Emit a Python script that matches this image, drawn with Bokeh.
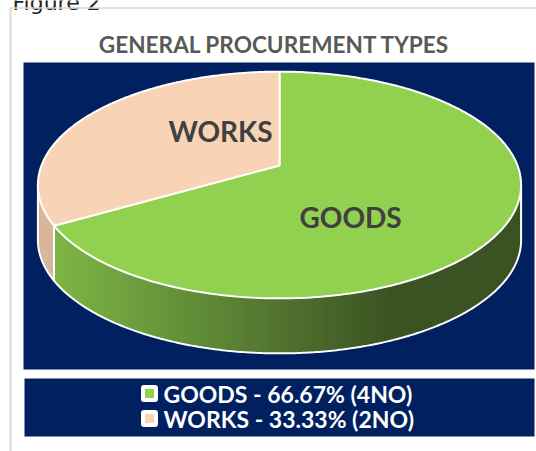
import numpy as np
from bokeh.plotting import figure
from bokeh.models import Range1d
from bokeh.core.properties import value
from bokeh.embed import file_html
from bokeh.resources import INLINE

# ---------------- data ----------------
categories = ["GOODS", "WORKS"]
counts = [4, 2]
top_colors = ["#92D050", "#F8D3B5"]
side_colors = [("#7DB545", "#3B5323"), ("#D9B59B", "#D9B59B")]
title_text = "GENERAL PROCUREMENT TYPES"
figure_caption = "Figure 2"

# ---------------- layout ----------------
W, H = 536, 451
CX, CY = 279, 165          # pie vertex on screen
R, A, K = 238, 110, 0.172  # horizontal radius, vertical radius, perspective
DEPTH = 55
NAVY = "#002060"
FONT = value("Lato")
label_place = {"GOODS": (147.7, 0.517), "WORKS": (322.0, 0.426)}


def proj(theta_deg, r=1.0):
    t = np.radians(theta_deg)
    u = r * np.sin(t)
    v = r * np.cos(t)
    s = 1 + K * v
    return CX + R * u / s, CY - A * v / s


def mix(c1, c2, t):
    a = np.array([int(c1[i:i + 2], 16) for i in (1, 3, 5)], dtype=float)
    b = np.array([int(c2[i:i + 2], 16) for i in (1, 3, 5)], dtype=float)
    c = a + (b - a) * t
    return "#%02x%02x%02x" % tuple(int(round(x)) for x in c)


p = figure(width=W, height=H, x_range=Range1d(0, W), y_range=Range1d(H, 0),
           x_axis_type=None, y_axis_type=None, toolbar_location=None,
           output_backend="svg", min_border=0)
p.grid.visible = False
p.outline_line_color = None
p.background_fill_color = "white"
p.border_fill_color = "white"

# frame + caption
p.text(x=[12], y=[2], text=[figure_caption], text_font=value("DejaVu Sans"),
       text_font_size="22px", text_color="#222222", text_baseline="alphabetic")
p.line(x=[10, W], y=[7.5, 7.5], line_color="#DADADA", line_width=1.5)
p.line(x=[10, 10], y=[7, H], line_color="#D9D9D9", line_width=2)

# title
p.text(x=[274], y=[44], text=[title_text], text_font=FONT, text_font_style="bold",
       text_font_size="22.6px", text_color="#595959", text_align="center",
       text_baseline="middle")

# plot / legend backgrounds
p.quad(left=[23], right=[534], top=[62], bottom=[369], fill_color=NAVY, line_color=None)
p.quad(left=[24], right=[534], top=[378], bottom=[436], fill_color=NAVY, line_color=None)

total = float(sum(counts))
fracs = [c / total for c in counts]
starts = np.concatenate([[0], np.cumsum(fracs)[:-1]]) * 360
ends = np.cumsum(fracs) * 360

th_right = np.degrees(np.arccos(-K))
th_left = 360 - th_right

# sides (overlapping strips to avoid seams)
for i in range(len(categories)):
    a0, a1 = max(starts[i], th_right), min(ends[i], th_left)
    if a1 <= a0:
        continue
    n = max(1, int(np.ceil((a1 - a0) / 1.0)))
    th = np.linspace(a0, a1, n + 1)
    xs, ys, cols = [], [], []
    for j in range(n):
        tb = min(th[j + 1] + 1.5, a1)
        tt = np.linspace(th[j], tb, 4)
        x, y = proj(tt)
        xs.append(np.concatenate([x, x[::-1]]))
        ys.append(np.concatenate([y, y[::-1] + DEPTH]))
        xm = proj((th[j] + th[j + 1]) / 2)[0]
        t = np.clip((xm - 55) / (390 - 55), 0, 1)
        cols.append(mix(side_colors[i][0], side_colors[i][1], t))
    p.patches(xs=xs, ys=ys, fill_color=cols, line_color=None)

# side outlines
thb = np.linspace(th_right, th_left, 300)
bx, by = proj(thb)
p.line(x=bx, y=by + DEPTH, line_color="white", line_width=2)
for th in [th_right, th_left] + [e for e in ends[:-1] if th_right < e < th_left]:
    x0, y0 = proj(th)
    p.line(x=[x0, x0], y=[y0, y0 + DEPTH], line_color="white", line_width=2)

# top faces
for i in range(len(categories)):
    th = np.linspace(starts[i], ends[i], 240)
    x, y = proj(th)
    p.patch(x=np.concatenate([[CX], x]), y=np.concatenate([[CY], y]),
            fill_color=top_colors[i], line_color="white", line_width=2)

# slice labels
for c in categories:
    lx, ly = proj(*label_place[c])
    p.text(x=[lx], y=[ly], text=[c], text_font=FONT, text_font_style="bold",
           text_font_size="28px", text_color="#404040", text_align="center",
           text_baseline="middle")

# legend
leg_y = [393, 418]
leg_labels = [f"{c} - {n / total * 100:.2f}% ({n}NO)" for c, n in zip(categories, counts)]
for i in range(len(categories)):
    p.rect(x=[149], y=[leg_y[i]], width=17, height=17, fill_color="white",
           line_color=None, border_radius=3)
    p.rect(x=[149], y=[leg_y[i]], width=9, height=9, fill_color=top_colors[i],
           line_color=None)
p.text(x=[163] * len(categories), y=leg_y, text=leg_labels, text_font=FONT,
       text_font_style="bold", text_font_size="23px", text_color="white",
       text_baseline="middle")

open("out.html", "w").write(file_html(p, INLINE))
